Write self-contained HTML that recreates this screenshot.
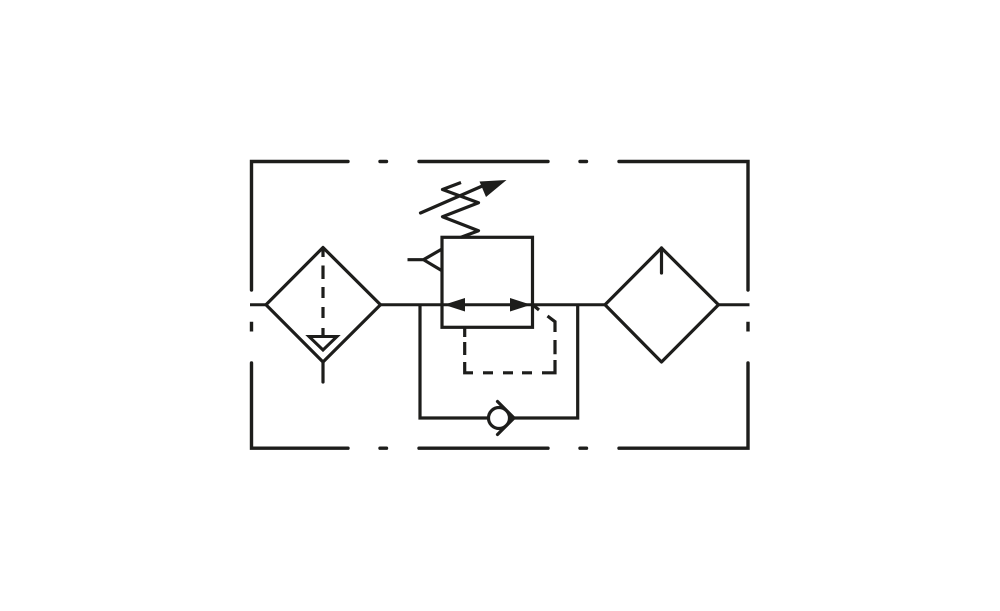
<!DOCTYPE html>
<html><head><meta charset="utf-8"><style>html,body{margin:0;padding:0;background:#fff}svg{display:block}</style></head><body>
<svg width="1000" height="611" viewBox="0 0 1000 611" xmlns="http://www.w3.org/2000/svg">
<rect width="1000" height="611" fill="#fff"/>
<g fill="none" stroke="#1d1d1b" stroke-width="3.2" stroke-linecap="round" stroke-linejoin="miter">
<!-- outer frame -->
<g stroke-width="3.4">
<path d="M251.5 290V161.500H348M380 161.500H386.500M419 161.500H548M580 161.500H586.500M619 161.500H748V290"/>
<path d="M251.5 363V448.200H348M380 448.200H386.500M419 448.200H548M580 448.200H586.500M619 448.200H748V363"/>
<path d="M251.500 321.700V331.500M748 321.700V331.500" stroke-linecap="butt"/>
</g>
<!-- main line -->
<path d="M250 304.800H266M380.500 304.800H605M718.500 304.800H749.500" stroke-width="3" stroke-linecap="butt"/>
<!-- left diamond -->
<path d="M266 304.800L323 247.500L380.500 304.800L323 362Z" stroke-linejoin="round"/>
<path d="M323 362V382"/>
<path d="M323 247V257M323 265.500V279M323 287V298M323 307V318M323 328V336" stroke-linecap="butt"/>
<path d="M309 336.500H337L323 350Z" stroke-width="3"/>
<!-- right diamond -->
<path d="M605 304.800L661.500 248L718.500 304.800L661.500 362Z" stroke-linejoin="round"/>
<path d="M661.500 248V273"/>
<!-- regulator box -->
<rect x="442" y="237.300" width="90.500" height="90"/>
<path d="M461 182.500L442.500 189.500L478.500 202.700L442.500 216.700L478.500 230.700L461 237.300" stroke-linecap="butt" stroke-linejoin="round"/>
<path d="M420.500 213L488 183.500" stroke-width="3.200"/>
<path d="M407.500 259.700H423M442 249L423.500 259.700L442 270.700" stroke-linecap="butt"/>
<path d="M533 305L539 310" stroke-linecap="butt"/>
<!-- dashed pilot -->
<path d="M547.500 316L555 321.700V332M555 340V354.300M555 360V372.800H542M532 372.800H522M513 372.800H503M493 372.800H483M473 372.800H464.700V362M464.700 355V342M464.700 337V328" stroke-linecap="butt"/>
<!-- bypass -->
<path d="M420 304.800V418H488M509 418H577.700V304.800" stroke-linecap="butt"/>
<circle cx="499" cy="418" r="10.500"/>
<path d="M497.500 401.500L514 418L497.500 434.500"/>
</g>
<g fill="#1d1d1b" stroke="none">
<polygon points="506.500,180 479.500,181.500 486,197"/>
<polygon points="444,304.800 465,298 465,311.500"/>
<polygon points="531,304.800 510,298 510,311.500"/>
</g>
</svg>
</body></html>
